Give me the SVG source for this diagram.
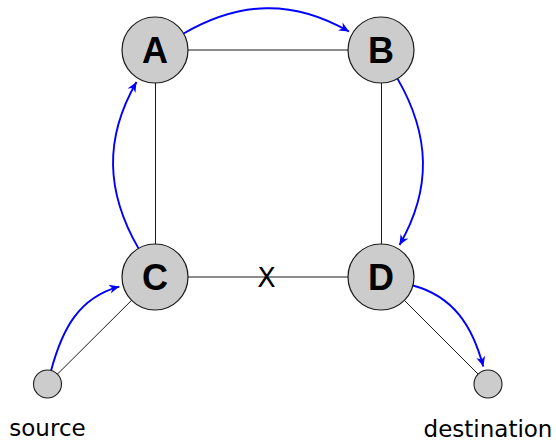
<svg xmlns="http://www.w3.org/2000/svg" width="556" height="444" viewBox="0 0 556 444">
<style>
.edge{stroke:#1a1a1a;stroke-width:1;fill:none}
.flow{stroke:#0000ff;stroke-width:1.9;fill:none;marker-end:url(#arr)}
.big{fill:#cccccc;stroke:#1a1a1a;stroke-width:1.2}
.small{fill:#cccccc;stroke:#1a1a1a;stroke-width:1.1}
.nlabel{font-family:"Liberation Sans","DejaVu Sans",sans-serif;font-weight:bold;font-size:36px;text-anchor:middle;fill:#000}
.tlabel{font-family:"DejaVu Sans","Liberation Sans",sans-serif;font-size:23px;text-anchor:middle;fill:#000}
</style>
<defs>
<marker id="arr" markerUnits="userSpaceOnUse" viewBox="-11 -6 12 12" refX="0" refY="0" markerWidth="12" markerHeight="12" orient="auto">
<path d="M0,0 L-10,-4.5 L-7,0 L-10,4.5 Z" fill="#0000ff"/>
</marker>
</defs>
<g id="connectors">
<line class="edge" x1="155" y1="50" x2="381" y2="50"/>
<line class="edge" x1="155.5" y1="50" x2="155.5" y2="277"/>
<line class="edge" x1="381.5" y1="50" x2="381.5" y2="277"/>
<line class="edge" x1="155" y1="277" x2="381" y2="277"/>
<line class="edge" x1="47.5" y1="384" x2="155" y2="277"/>
<line class="edge" x1="381" y1="277" x2="488" y2="384"/>
<text x="266.5" y="286.5" style="font-family:'DejaVu Sans','Liberation Sans',sans-serif;font-size:27px;text-anchor:middle">X</text>
<path class="flow" d="M183.6,33.5 C239.7,1.1 292.9,-0.9 349,31.5"/>
<path class="flow" d="M397.5,78.6 C430.1,135.1 432.1,188.5 399.5,245"/>
<path class="flow" d="M138.5,248.4 C105.9,191.9 103.9,138.5 136.5,82"/>
<path class="flow" d="M51.1,370.5 C62.1,329.6 78.4,297.6 119.3,286.6"/>
<path class="flow" d="M412.9,285.5 C453.5,296.4 472.4,326 483.3,366.6"/>
</g>
<g id="A"><circle class="big" cx="155" cy="50" r="33"/><text class="nlabel" x="155" y="63">A</text></g>
<g id="B"><circle class="big" cx="381" cy="50" r="33"/><text class="nlabel" x="381" y="63">B</text></g>
<g id="C"><circle class="big" cx="155" cy="277" r="33"/><text class="nlabel" x="155" y="290">C</text></g>
<g id="D"><circle class="big" cx="381" cy="277" r="33"/><text class="nlabel" x="381" y="290">D</text></g>
<g id="source"><circle class="small" cx="47.5" cy="384" r="14"/><text class="tlabel" x="47.5" y="436">source</text></g>
<g id="destination"><circle class="small" cx="488" cy="384" r="14"/><text class="tlabel" x="488" y="437">destination</text></g>
</svg>
